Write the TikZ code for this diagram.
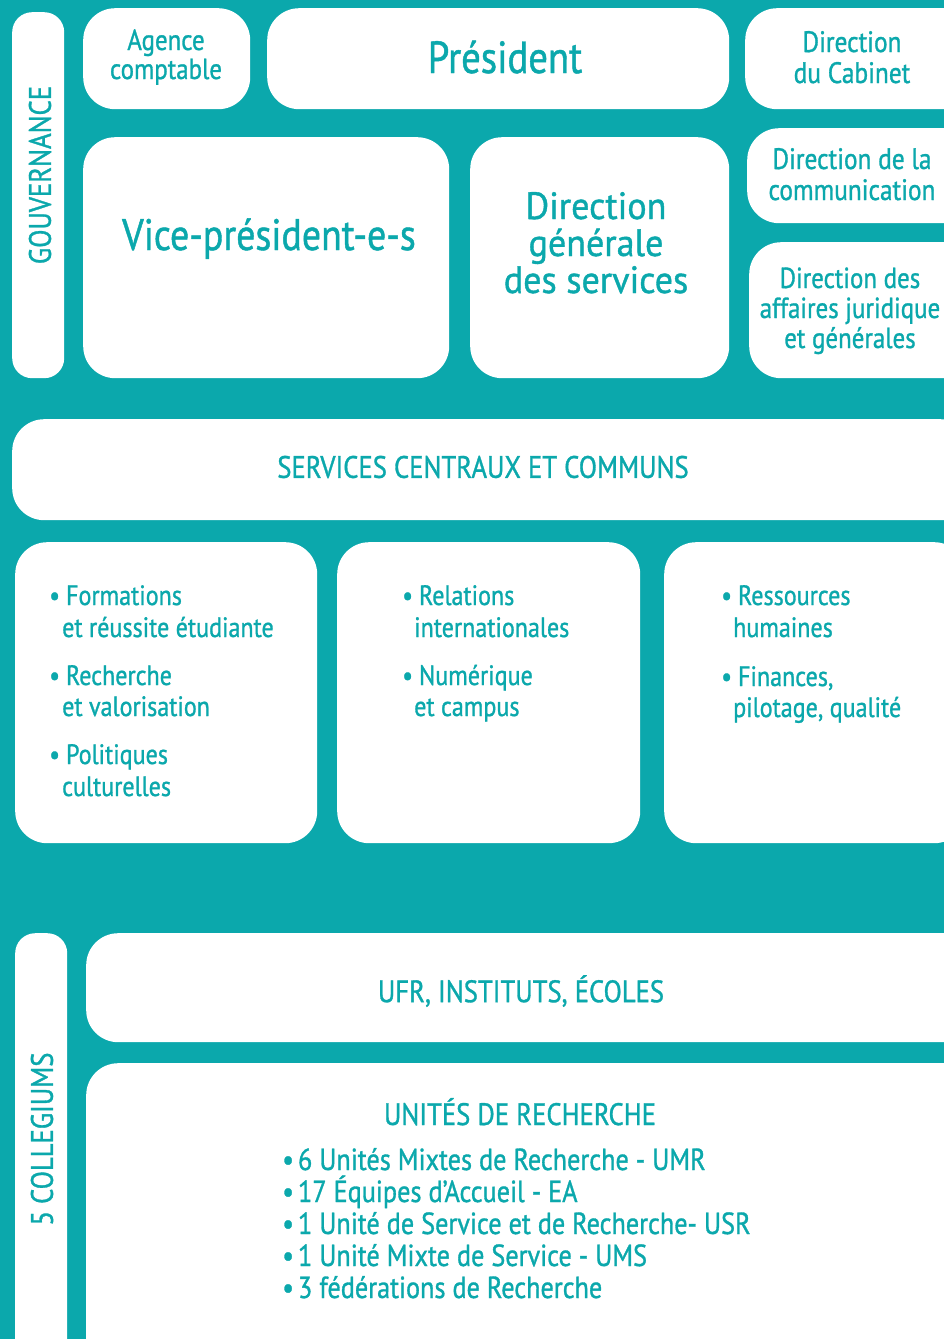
\documentclass[tikz,border=0pt]{standalone}
\usepackage{fontspec}
\setmainfont{PT Sans}[FakeStretch=0.86,FakeBold=1]
\newfontfamily\widefont{PT Sans}[FakeStretch=0.95,FakeBold=1]
\definecolor{teal0}{HTML}{0BA8AC}
\newcommand{\fs}[2]{\fontsize{#1}{#2}\selectfont}
\newcommand{\bul}{\textbullet\hspace{6pt}}
\tikzset{
  box/.style={fill=white, draw=none, rounded corners=32pt, anchor=north west, inner sep=0pt},
  sbox/.style={box, rounded corners=20pt},
  txt/.style={text=teal0, align=center, inner sep=0pt},
  btxt/.style={text=teal0, anchor=base west, inner sep=0pt},
}
\begin{document}
\begin{tikzpicture}[x=1pt,y=-1pt]
\fill[teal0] (0,0) rectangle (944,1339);
\clip (0,0) rectangle (944,1339);
\useasboundingbox (0,0) rectangle (944,1339);
% governance
\node[sbox, minimum width=52pt, minimum height=366pt] (gov) at (12,12) {};
\node[txt, rotate=90, font=\fs{31}{31}] (govt) at (40,175) {GOUVERNANCE};
\node[box, minimum width=167pt, minimum height=101pt] (agence) at (83,8) {};
\node[txt, font=\fs{29}{29}, anchor=base] (agencet) at (166,79) {Agence\\comptable};
\node[box, minimum width=462pt, minimum height=101pt] (pres) at (267,8) {};
\node[txt, font=\fs{45}{44}, anchor=base] (prest) at (505,73) {Président};
\node[box, minimum width=230pt, minimum height=101pt] (cab) at (745,8) {};
\node[txt, font=\fs{29.5}{31}, anchor=base] (cabt) at (852,83) {Direction\\du Cabinet};
\node[box, minimum width=366pt, minimum height=241pt] (vice) at (83,137) {};
\node[txt, font=\fs{44}{44}, anchor=base] (vicet) at (269,250) {Vice-président-e-s};
\node[box, minimum width=259pt, minimum height=241pt] (dgs) at (470,137) {};
\node[txt, font=\widefont\fs{38}{37}, anchor=base] (dgst) at (596,293) {Direction\\générale\\des services};
\node[box, minimum width=230pt, minimum height=95pt] (com) at (747,128) {};
\node[txt, font=\fs{29.5}{31}, anchor=base] (comt) at (852,200) {Direction de la\\communication};
\node[box, minimum width=230pt, minimum height=136pt] (daj) at (749,242) {};
\node[txt, font=\fs{29}{30}, anchor=base] (dajt) at (850,348) {Direction des\\affaires juridique\\et générales};
% services
\node[box, minimum width=960pt, minimum height=101pt] (serv) at (12,419) {};
\node[txt, font=\fs{31}{31}] (servt) at (483,467) {SERVICES CENTRAUX ET COMMUNS};
\node[box, minimum width=302pt, minimum height=301pt] (s1) at (15,542) {};
\node[box, minimum width=303pt, minimum height=301pt] (s2) at (337,542) {};
\node[box, minimum width=302pt, minimum height=301pt] (s3) at (664,542) {};
\begin{scope}[font=\fs{28}{28}]
\node[btxt] (t1a) at (49,605) {\bul Formations};
\node[btxt] (t1b) at (62,637) {et réussite étudiante};
\node[btxt] (t1c) at (49,685) {\bul Recherche};
\node[btxt] (t1d) at (62,716) {et valorisation};
\node[btxt] (t1e) at (49,764) {\bul Politiques};
\node[btxt] (t1f) at (62,796) {culturelles};
\node[btxt] (t2a) at (402,605) {\bul Relations};
\node[btxt] (t2b) at (414,637) {internationales};
\node[btxt] (t2c) at (402,685) {\bul Numérique};
\node[btxt] (t2d) at (414,716) {et campus};
\node[btxt] (t3a) at (721,605) {\bul Ressources};
\node[btxt] (t3b) at (733,637) {humaines};
\node[btxt] (t3c) at (721,686) {\bul Finances,};
\node[btxt] (t3d) at (733,717) {pilotage, qualité};
\end{scope}
% collegiums
\node[sbox, minimum width=52pt, minimum height=440pt] (col) at (15,933) {};
\node[txt, rotate=90, font=\fs{31}{31}] (colt) at (42,1139) {5 COLLEGIUMS};
\node[box, minimum width=890pt, minimum height=109pt] (ufr) at (86,933) {};
\node[txt, font=\fs{31}{31}] (ufrt) at (521,991) {UFR, INSTITUTS, ÉCOLES};
\node[box, minimum width=890pt, minimum height=320pt] (ur) at (86,1063) {};
\node[txt, font=\fs{31}{31}, anchor=base] (urt) at (520,1125) {UNITÉS DE RECHERCHE};
\begin{scope}[font=\fs{30.5}{30}]
\foreach \i/\t [count=\k] in {0/{6 Unités Mixtes de Recherche - UMR},1/{17 Équipes d’Accueil - EA},2/{1 Unité de Service et de Recherche- USR},3/{1 Unité Mixte de Service - UMS},4/{3 fédérations de Recherche}}{
  \node[btxt] (ul\k) at (282,1170+32*\i) {\textbullet\hspace{4pt}\t};
}
\end{scope}
\end{tikzpicture}
\end{document}
